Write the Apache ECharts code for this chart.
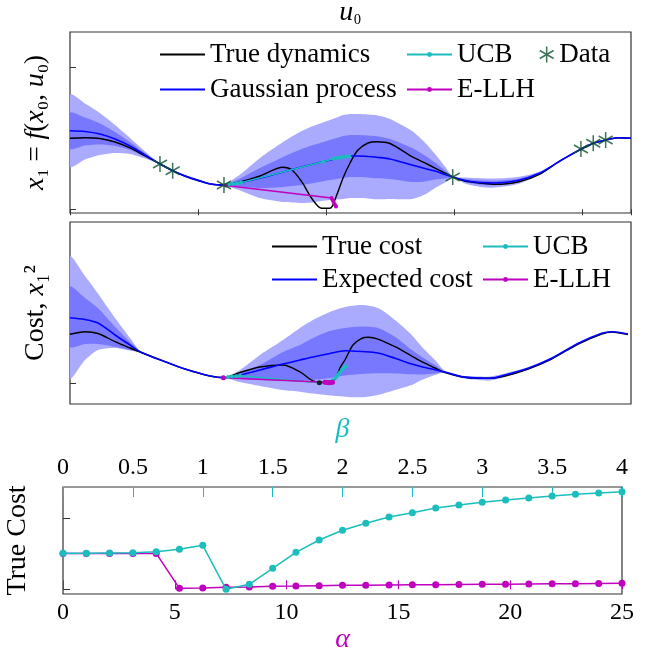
<!DOCTYPE html>
<html lang="en">
<head>
  <meta charset="UTF-8">
  <title>GP model, expected cost and true cost</title>
  <script src="https://cdn.jsdelivr.net/npm/echarts@6/dist/echarts.min.js"></script>
</head>
<body style="margin:0">
  <div id="main" style="width: 645px; height: 656px;"></div>
  <script>
    // ---- panel 1: x1 = f(x0, u0) ----
    var p1U = [0, 0.117, 0.234, 0.352, 0.469, 0.586, 0.703, 0.802, 0.898, 1.016, 1.109, 1.203, 1.328, 1.484, 1.664,
      1.734, 1.810, 1.888, 1.966, 2.031, 2.084, 2.133, 2.188, 2.25, 2.328, 2.396, 2.5, 2.672, 2.773, 2.852, 2.930,
      2.990, 3.086, 3.203, 3.320, 3.5, 3.672, 3.828, 3.992, 4.088, 4.185, 4.281, 4.383];
    var p1True = [1.495, 1.507, 1.491, 1.417, 1.291, 1.122, 0.954, 0.813, 0.701, 0.596, 0.526, 0.512, 0.575, 0.701, 0.884,
      0.827, 0.581, 0.232, 0.021, 0.021, 0.301, 0.659, 0.975, 1.248, 1.396, 1.423, 1.385, 1.107, 0.975, 0.869, 0.764,
      0.680, 0.596, 0.554, 0.526, 0.575, 0.743, 1.017, 1.26, 1.389, 1.459, 1.507, 1.495];
    var p1Mean = [1.655, 1.638, 1.585, 1.480, 1.333, 1.143, 0.954, 0.813, 0.701, 0.596, 0.526, 0.512, 0.564, 0.659, 0.785,
      0.838, 0.891, 0.943, 0.996, 1.038, 1.069, 1.101, 1.122, 1.122, 1.112, 1.095, 1.059, 0.933, 0.859, 0.806, 0.733,
      0.680, 0.606, 0.564, 0.554, 0.606, 0.764, 1.017, 1.269, 1.389, 1.459, 1.507, 1.495];
    var p1Std = [0.379, 0.295, 0.221, 0.147, 0.084, 0.038, 0.006, 0.006, 0.013, 0.013, 0.008, 0.006, 0.084, 0.211, 0.316,
      0.347, 0.379, 0.400, 0.411, 0.421, 0.432, 0.442, 0.442, 0.442, 0.442, 0.442, 0.421, 0.358, 0.274, 0.179, 0.084,
      0.006, 0.032, 0.046, 0.048, 0.038, 0.017, 0.006, 0.004, 0.004, 0.004, 0.006, 0.006];
    var p1DataU = [0.703, 0.802, 1.203, 2.990, 3.992, 4.088, 4.185];
    var p1DataX1 = [0.954, 0.813, 0.512, 0.680, 1.269, 1.389, 1.459];
    var p1UcbU = [1.211, 1.242, 1.273, 1.305, 1.336, 1.977, 2.063, 2.086, 2.109, 2.133, 2.156, 2.180];
    var p1UcbX1 = [0.512, 0.526, 0.537, 0.547, 0.562, 1.002, 1.069, 1.080, 1.091, 1.101, 1.109, 1.118];
    var p1LlhU = [1.219, 2.043, 2.051, 2.059, 2.066, 2.074, 2.078];
    var p1LlhX1 = [0.501, 0.238, 0.196, 0.154, 0.112, 0.080, 0.059];

    // ---- panel 2: cost x1^2 ----
    var p2U = [0, 0.117, 0.219, 0.352, 0.469, 0.563, 0.742, 0.898, 1.094, 1.203, 1.328, 1.484, 1.664, 1.797, 1.898,
      2.031, 2.148, 2.279, 2.406, 2.539, 2.670, 2.748, 2.852, 2.930, 3.060, 3.188, 3.281, 3.398, 3.580, 3.763, 3.971,
      4.154, 4.232, 4.359];
    var p2Mean = [1.135, 1.104, 1.043, 0.836, 0.663, 0.529, 0.374, 0.247, 0.126, 0.097, 0.144, 0.230, 0.334, 0.403, 0.455,
      0.516, 0.564, 0.550, 0.524, 0.433, 0.334, 0.287, 0.235, 0.196, 0.114, 0.092, 0.087, 0.144, 0.260, 0.433, 0.692,
      0.865, 0.893, 0.853];
    var p2OuterHi = [2.190, 1.856, 1.550, 1.130, 0.784, 0.529, 0.374, 0.247, 0.126, 0.097, 0.230, 0.490, 0.749, 0.957, 1.095,
      1.234, 1.320, 1.355, 1.303, 1.095, 0.836, 0.633, 0.403, 0.213, 0.135, 0.118, 0.118, 0.170, 0.282, 0.446, 0.697,
      0.870, 0.896, 0.862];
    var p2InnerHi = [1.671, 1.476, 1.298, 0.979, 0.715, 0.529, 0.374, 0.247, 0.126, 0.097, 0.178, 0.317, 0.542, 0.663, 0.784,
      0.905, 0.957, 0.983, 0.957, 0.806, 0.576, 0.460, 0.317, 0.204, 0.126, 0.106, 0.102, 0.157, 0.270, 0.439, 0.694,
      0.867, 0.894, 0.856];
    var p2InnerLo = [0.633, 0.680, 0.680, 0.633, 0.576, 0.529, 0.374, 0.247, 0.126, 0.097, 0.074, 0.057, 0.040, 0.040, 0.057,
      0.092, 0.135, 0.161, 0.173, 0.170, 0.156, 0.152, 0.170, 0.190, 0.102, 0.078, 0.071, 0.130, 0.249, 0.426, 0.690,
      0.863, 0.891, 0.849];
    var p2OuterLo = [0.087, 0.403, 0.576, 0.611, 0.567, 0.529, 0.374, 0.247, 0.126, 0.097, 0.022, -0.047, -0.116, -0.145, -0.176,
      -0.211, -0.232, -0.242, -0.202, -0.116, -0.029, 0.057, 0.144, 0.185, 0.092, 0.057, 0.048, 0.109, 0.239, 0.420, 0.687,
      0.860, 0.888, 0.844];
    var p2TrueU = [0, 0.117, 0.219, 0.352, 0.469, 0.563, 0.742, 0.898, 1.094, 1.203, 1.328, 1.484, 1.664, 1.797, 1.898,
      1.969, 2.031, 2.078, 2.109, 2.148, 2.211, 2.279, 2.331, 2.406, 2.539, 2.670, 2.748, 2.852, 2.930, 3.060, 3.188,
      3.281, 3.398, 3.580, 3.763, 3.971, 4.154, 4.232, 4.359];
    var p2True = [0.848, 0.893, 0.862, 0.720, 0.611, 0.529, 0.374, 0.247, 0.126, 0.097, 0.187, 0.282, 0.317, 0.196, 0.040,
      0.014, 0.022, 0.092, 0.265, 0.403, 0.663, 0.779, 0.796, 0.766, 0.633, 0.472, 0.374, 0.265, 0.187, 0.114, 0.087,
      0.087, 0.126, 0.247, 0.420, 0.680, 0.853, 0.888, 0.844];
    var p2UcbU = [1.203, 1.234, 1.266, 1.297, 1.328, 1.945, 2.055, 2.078, 2.094, 2.109, 2.125, 2.141, 2.152];
    var p2UcbCost = [0.097, 0.109, 0.118, 0.121, 0.130, 0.010, 0.057, 0.100, 0.144, 0.187, 0.230, 0.265, 0.291];
    var p2LlhU = [1.198, 1.992, 2.008, 2.023, 2.039, 2.051];
    var p2LlhCost = [0.097, 0.017, 0.012, 0.009, 0.012, 0.019];
    var p2OptU = [1.948];
    var p2OptCost = [0.010];

    // ---- panel 3: true cost vs alpha / beta ----
    var alphaVals = [0, 1.042, 2.083, 3.125, 4.167, 5.208, 6.25, 7.292, 8.333, 9.375, 10.417, 11.458, 12.5, 13.542,
      14.583, 15.625, 16.667, 17.708, 18.75, 19.792, 20.833, 21.875, 22.917, 23.958, 25];
    var llhCost = [0.505, 0.505, 0.505, 0.505, 0.505, 0.014, 0.018, 0.028, 0.032, 0.042, 0.046, 0.051, 0.056, 0.058,
      0.061, 0.063, 0.065, 0.068, 0.070, 0.072, 0.075, 0.077, 0.079, 0.082, 0.085];
    var betaVals = [0, 0.167, 0.333, 0.5, 0.667, 0.833, 1, 1.167, 1.333, 1.5, 1.667, 1.833, 2, 2.167, 2.333, 2.5,
      2.667, 2.833, 3, 3.167, 3.333, 3.5, 3.667, 3.833, 4];
    var ucbCost = [0.507, 0.507, 0.511, 0.515, 0.529, 0.563, 0.620, 0.0, 0.070, 0.296, 0.521, 0.695, 0.831, 0.930,
      1.018, 1.079, 1.145, 1.187, 1.225, 1.258, 1.286, 1.314, 1.338, 1.356, 1.375];

    var FONT = 'Liberation Serif';
    var CYAN = '#1bbdbd', MAGENTA = '#bf00bf', GREEN = '#0b5030';
    var LIGHT = '#aaaaff', DARK = '#7878ff';
    var STAR = 'path://M0,-1L0,1M-0.866,-0.5L0.866,0.5M-0.866,0.5L0.866,-0.5';

    function pairs(xs, ys) {
      return xs.map(function (x, i) { return [x, ys[i]]; });
    }
    // filled band between lo and hi, drawn as one polygon through the axis scales
    function band(gi, xs, lo, hi, color) {
      return {
        type: 'custom', xAxisIndex: gi, yAxisIndex: gi, silent: true, z: 1,
        data: xs.map(function (x, i) { return [x, lo[i], hi[i]]; }),
        encode: { x: 0, y: [1, 2] },
        renderItem: function (params, api) {
          if (params.dataIndex !== 0) return null;
          var pts = [];
          for (var i = 0; i < xs.length; i++) pts.push(api.coord([xs[i], hi[i]]));
          for (var j = xs.length - 1; j >= 0; j--) pts.push(api.coord([xs[j], lo[j]]));
          var cs = params.coordSys;
          return {
            type: 'polygon', shape: { points: pts, smooth: 0.25 }, style: { fill: color },
            clipPath: { type: 'rect', shape: { x: cs.x, y: cs.y, width: cs.width, height: cs.height } }
          };
        }
      };
    }
    var lo1 = p1Mean.map(function (m, i) { return m - 2 * p1Std[i]; });
    var hi1 = p1Mean.map(function (m, i) { return m + 2 * p1Std[i]; });
    var lo1i = p1Mean.map(function (m, i) { return m - p1Std[i]; });
    var hi1i = p1Mean.map(function (m, i) { return m + p1Std[i]; });

    var textStyle = { fontFamily: FONT, fontSize: 27, lineHeight: 27, color: '#000' };
    var italic = { fontFamily: FONT, fontSize: 28, fontStyle: 'italic', color: '#000' };

    var myChart = echarts.init(document.getElementById('main'));
    var option = {
      animation: false,
      backgroundColor: '#fff',
      grid: [
        { left: 70, top: 32, width: 561, height: 181, show: true, borderColor: '#333', borderWidth: 1.2,
          outerBoundsMode: 'none' },
        { left: 70, top: 222, width: 561, height: 182, show: true, borderColor: '#333', borderWidth: 1.2,
          outerBoundsMode: 'none' },
        { left: 63, top: 487, width: 559, height: 107, show: true, borderColor: '#333', borderWidth: 1.2,
          outerBoundsMode: 'none' }
      ],
      legend: [
        { left: 160, top: 41, orient: 'vertical', padding: 0, itemGap: 8, itemWidth: 45, itemHeight: 2,
          icon: 'rect', textStyle: textStyle, data: ['True dynamics', 'Gaussian process'] },
        { left: 406, top: 41, orient: 'vertical', padding: 0, itemGap: 8, itemWidth: 45, itemHeight: 6,
          textStyle: textStyle, data: ['UCB', 'E-LLH'] },
        { left: 539, top: 41, padding: 0, itemWidth: 15, itemHeight: 16, textStyle: textStyle,
          data: [{ name: 'Data', icon: STAR, itemStyle: { color: GREEN, borderColor: GREEN, borderWidth: 1.5 } }] },
        { left: 272, top: 233, orient: 'vertical', padding: 0, itemGap: 6, itemWidth: 45, itemHeight: 2,
          icon: 'rect', textStyle: textStyle, data: ['True cost', 'Expected cost'] },
        { left: 482, top: 233, orient: 'vertical', padding: 0, itemGap: 6, itemWidth: 45, itemHeight: 6,
          textStyle: textStyle, data: ['UCB', 'E-LLH'] }
      ],
      xAxis: [
        { gridIndex: 0, type: 'value', position: 'top', min: 0, max: 4.383, interval: 1,
          axisLine: { show: false }, splitLine: { show: false }, axisLabel: { show: false },
          axisTick: { inside: true, length: 6, lineStyle: { color: '#333' } },
          name: '{i|u}₀', nameLocation: 'middle', nameGap: 5,
          nameTextStyle: { fontFamily: FONT, fontSize: 24, color: '#000', rich: { i: italic } } },
        { gridIndex: 1, type: 'value', min: 0, max: 4.383, show: false },
        { gridIndex: 2, type: 'value', position: 'bottom', min: 0, max: 25, interval: 5,
          axisLine: { show: false }, splitLine: { show: false },
          axisTick: { inside: true, length: 9, lineStyle: { color: MAGENTA } },
          axisLabel: { fontFamily: FONT, fontSize: 24, color: '#000', margin: 7 },
          name: 'α', nameLocation: 'middle', nameGap: 29,
          nameTextStyle: { fontFamily: FONT, fontSize: 28, fontStyle: 'italic', color: MAGENTA } },
        { gridIndex: 2, type: 'value', position: 'top', min: 0, max: 4, interval: 0.5,
          axisLine: { show: false }, splitLine: { show: false },
          axisTick: { inside: true, length: 10, lineStyle: { color: CYAN } },
          axisLabel: { fontFamily: FONT, fontSize: 24, color: '#000', margin: 7 },
          name: 'β', nameLocation: 'middle', nameGap: 43,
          nameTextStyle: { fontFamily: FONT, fontSize: 28, fontStyle: 'italic', color: CYAN } }
      ],
      yAxis: [
        { gridIndex: 0, type: 'value', min: -0.078, max: 3.733,
          axisLine: { show: false }, splitLine: { show: false }, axisLabel: { show: false },
          axisTick: { inside: true, length: 6, customValues: [0, 1, 2, 3], lineStyle: { color: '#333' } },
          name: '{i|x}₁ = {i|f}({i|x}₀, {i|u}₀)', nameLocation: 'middle', nameGap: 20,
          nameTextStyle: { fontFamily: FONT, fontSize: 27, color: '#000', rich: { i: italic } } },
        { gridIndex: 1, type: 'value', min: -0.358, max: 2.791,
          axisLine: { show: false }, splitLine: { show: false }, axisLabel: { show: false },
          axisTick: { inside: true, length: 6, customValues: [0, 1, 2], lineStyle: { color: '#333' } },
          name: 'Cost, {i|x}₁²', nameLocation: 'middle', nameGap: 20,
          nameTextStyle: { fontFamily: FONT, fontSize: 28, color: '#000', rich: { i: italic } } },
        { gridIndex: 2, type: 'value', min: -0.066, max: 1.441,
          axisLine: { show: false }, splitLine: { show: false }, axisLabel: { show: false },
          axisTick: { inside: true, length: 7, customValues: [0, 1], lineStyle: { color: '#333' } },
          name: 'True Cost', nameLocation: 'middle', nameGap: 31,
          nameTextStyle: { fontFamily: FONT, fontSize: 28, color: '#000' } }
      ],
      series: [
        band(0, p1U, lo1, hi1, LIGHT),
        band(0, p1U, lo1i, hi1i, DARK),
        { name: 'True dynamics', type: 'line', xAxisIndex: 0, yAxisIndex: 0, data: pairs(p1U, p1True),
          smooth: 0.3, symbol: 'none', color: '#000', lineStyle: { width: 1.4 }, z: 3 },
        { name: 'Gaussian process', type: 'line', xAxisIndex: 0, yAxisIndex: 0, data: pairs(p1U, p1Mean),
          smooth: 0.3, symbol: 'none', color: '#0000ff', lineStyle: { width: 1.6 }, z: 4 },
        { name: 'UCB', type: 'line', xAxisIndex: 0, yAxisIndex: 0, data: pairs(p1UcbU, p1UcbX1),
          symbol: 'circle', symbolSize: 4, color: CYAN, lineStyle: { width: 1.5 }, z: 5 },
        { name: 'E-LLH', type: 'line', xAxisIndex: 0, yAxisIndex: 0, data: pairs(p1LlhU, p1LlhX1),
          symbol: 'circle', symbolSize: 4, color: MAGENTA, lineStyle: { width: 1.5 }, z: 5 },
        { name: 'Data', type: 'scatter', xAxisIndex: 0, yAxisIndex: 0, data: pairs(p1DataU, p1DataX1),
          symbol: STAR, symbolSize: [14, 16], itemStyle: { color: GREEN, borderColor: GREEN, borderWidth: 1.6 }, z: 6 },

        band(1, p2U, p2OuterLo, p2OuterHi, LIGHT),
        band(1, p2U, p2InnerLo, p2InnerHi, DARK),
        { name: 'True cost', type: 'line', xAxisIndex: 1, yAxisIndex: 1, data: pairs(p2TrueU, p2True),
          smooth: 0.3, symbol: 'none', color: '#000', lineStyle: { width: 1.4 }, z: 3 },
        { name: 'Expected cost', type: 'line', xAxisIndex: 1, yAxisIndex: 1, data: pairs(p2U, p2Mean),
          smooth: 0.3, symbol: 'none', color: '#0000ff', lineStyle: { width: 1.6 }, z: 4 },
        { name: 'UCB', type: 'line', xAxisIndex: 1, yAxisIndex: 1, data: pairs(p2UcbU, p2UcbCost),
          symbol: 'circle', symbolSize: 4, color: CYAN, lineStyle: { width: 1.5 }, z: 5 },
        { name: 'E-LLH', type: 'line', xAxisIndex: 1, yAxisIndex: 1, data: pairs(p2LlhU, p2LlhCost),
          symbol: 'circle', symbolSize: 5, color: MAGENTA, lineStyle: { width: 1.5 }, z: 5 },
        { name: 'optimum', type: 'scatter', xAxisIndex: 1, yAxisIndex: 1, data: pairs(p2OptU, p2OptCost),
          symbol: 'circle', symbolSize: 5, color: '#000', z: 6 },

        { name: 'E-LLH', type: 'line', xAxisIndex: 2, yAxisIndex: 2, data: pairs(alphaVals, llhCost),
          symbol: 'circle', symbolSize: 7, color: MAGENTA, lineStyle: { width: 1.5 }, z: 5 },
        { name: 'UCB', type: 'line', xAxisIndex: 3, yAxisIndex: 2, data: pairs(betaVals, ucbCost),
          symbol: 'circle', symbolSize: 7, color: CYAN, lineStyle: { width: 1.5 }, z: 6 }
      ]
    };
    myChart.setOption(option);
  </script>
</body>
</html>
